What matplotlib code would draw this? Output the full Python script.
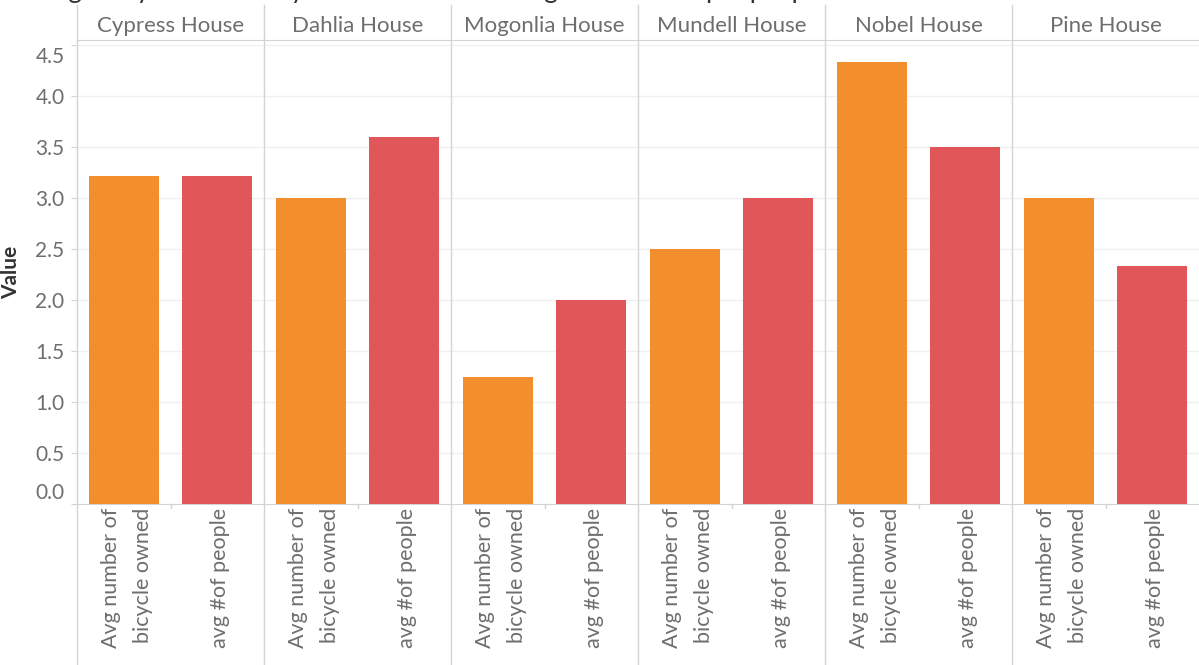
import numpy as np
import matplotlib.pyplot as plt
from matplotlib.transforms import blended_transform_factory, ScaledTranslation

plt.rcParams['font.family'] = ['Lato', 'DejaVu Sans']

houses = ["Cypress House", "Dahlia House", "Mogonlia House",
          "Mundell House", "Nobel House", "Pine House"]
measures = ["Avg number of\nbicycle owned", "avg #of people"]
avg_bicycle = [3.22, 3.0, 1.25, 2.5, 4.33, 3.0]
avg_people = [3.22, 3.6, 2.0, 3.0, 3.5, 2.33]
yticks = [0.0, 0.5, 1.0, 1.5, 2.0, 2.5, 3.0, 3.5, 4.0, 4.5]

c_orange = "#F28E2B"
c_red = "#E15759"
grey_txt = "#6e6e6e"
line_c = "#d4d4d4"

W, H = 1199, 665
fig = plt.figure(figsize=(W / 100, H / 100), dpi=100)
ax = fig.add_axes([77 / W, (H - 504) / H, (W - 77) / W, (504 - 40) / H])

n = len(houses)
x_or = np.arange(n) * 2
x_rd = x_or + 1
ax.bar(x_or, avg_bicycle, width=0.75, color=c_orange, zorder=3)
ax.bar(x_rd, avg_people, width=0.75, color=c_red, zorder=3)

ax.set_xlim(-0.5, 2 * n - 0.5)
ax.set_ylim(0, 4.55)
ax.set_yticks(yticks)
ax.set_yticklabels(["%.1f" % v for v in yticks])
ax.tick_params(axis='y', labelsize=15, colors=grey_txt, length=4, color=line_c, pad=5)
ax.set_xticks([])
for y in yticks[1:]:
    ax.axhline(y, color="#f0f0f0", lw=1, zorder=0)

ax.spines['right'].set_visible(False)
ax.spines['top'].set_color(line_c)
ax.spines['left'].set_color(line_c)
ax.spines['bottom'].set_color(line_c)

# nudge first/last tick labels like the original
lbls = ax.get_yticklabels()
lbls[0].set_transform(lbls[0].get_transform() + ScaledTranslation(0, 13 / 100, fig.dpi_scale_trans))
lbls[-1].set_transform(lbls[-1].get_transform() + ScaledTranslation(0, -10 / 100, fig.dpi_scale_trans))

ax.set_ylabel("Value", fontsize=15, fontweight='bold', color="#333333", labelpad=10)

# panel separators running through header and label rows
tr = blended_transform_factory(ax.transData, fig.transFigure)
for i in range(n):
    xs = 2 * i - 0.5
    ax.plot([xs, xs], [0, 1 - 5 / H], transform=tr, color=line_c, lw=1, clip_on=False, zorder=1)
    fig.text(2 * i + 0.5, 1 - 26 / H, houses[i], transform=tr, fontsize=16,
             color=grey_txt, ha='center', va='center')

# small ticks between bars
for i in range(n):
    ax.plot([2 * i + 0.5] * 2, [0, -0.04], color=line_c, lw=1, clip_on=False)

# rotated measure labels
for i in range(n):
    for j, m in enumerate(measures):
        fig.text(2 * i + j + 0.03, 1 - 508 / H, m, transform=tr, rotation=90,
                 ha='center', va='top', multialignment='right',
                 fontsize=15.5, color=grey_txt, linespacing=1.75)

# title cut off at top of the image
fig.text(0.0, 1 + 2 / H, "Average bicycle owned by each house vs average number of people per house",
         fontsize=19, color="#333333", ha='left', va='baseline')

plt.savefig("out.png", dpi=100)
